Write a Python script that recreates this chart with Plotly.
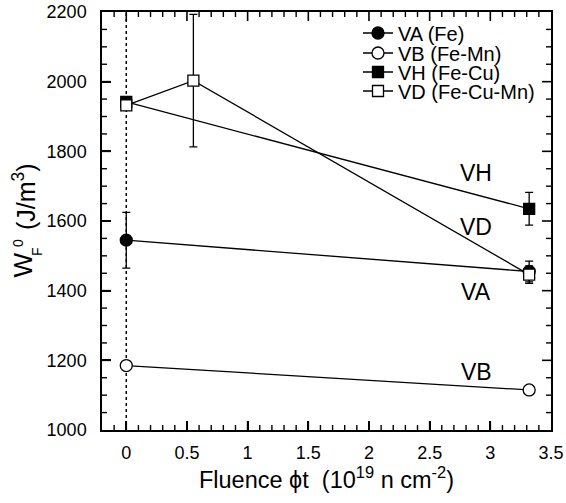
import numpy as np
import plotly.graph_objects as go

# Data
va_x = [0, 3.32]
va_y = [1545, 1455]
va_err = [80, 30]

vb_x = [0, 3.32]
vb_y = [1185, 1115]

vh_x = [0, 3.32]
vh_y = [1942, 1635]
vh_err = [8, 47]

vd_x = [0, 0.553, 3.32]
vd_y = [1932, 2003, 1446]
vd_err = [10, 190, 25]

labels = ["VH", "VD", "VA", "VB"]
label_x = [2.885, 2.885, 2.885, 2.885]
label_y = [1739, 1584, 1397, 1166]

x_tickvals = [0, 0.5, 1, 1.5, 2, 2.5, 3, 3.5]
x_ticktext = ["0", "0.5", "1", "1.5", "2", "2.5", "3", "3.5"]
y_tickvals = [1000, 1200, 1400, 1600, 1800, 2000, 2200]
x_range = [-0.2, 3.5]
y_range = [1000, 2200]
x_minor_step = 0.1
y_minor_step = 50

FONT = "Liberation Sans, Arial, sans-serif"

L, R, T, B = 102, 15, 12, 73
W_, H_ = 566, 503
PW, PH = W_ - L - R, H_ - T - B

def px2paper_x(px):
    return (px - L) / PW

def px2paper_y(py):
    return 1 - (py - T) / PH

fig = go.Figure()

legend_names = ["legend", "legend2", "legend3", "legend4"]

def add(name, x, y, err, symbol, fill, lg):
    fig.add_trace(go.Scatter(
        x=x, y=y, name=name, mode="lines+markers",
        line=dict(color="black", width=1.3),
        marker=dict(symbol=symbol, size=12 if "circle" in symbol else 11,
                    color=fill, line=dict(color="black", width=1.3)),
        error_y=dict(type="data", array=err, visible=err is not None,
                     color="black", thickness=1.3, width=4),
        cliponaxis=False, legend=lg,
    ))

add("VA (Fe)", va_x, va_y, va_err, "circle", "black", legend_names[0])
add("VB (Fe-Mn)", vb_x, vb_y, None, "circle", "white", legend_names[1])
add("VH (Fe-Cu)", vh_x, vh_y, vh_err, "square", "black", legend_names[2])
add("VD (Fe-Cu-Mn)", vd_x, vd_y, vd_err, "square", "white", legend_names[3])

fig.add_shape(type="line", x0=0, x1=0, xref="x", y0=0, y1=1, yref="paper",
              line=dict(color="black", width=1.5, dash="dot"), layer="below")

# inside tick marks on all four sides (axis decoration)
MAJ, MIN = 9, 5
def xtick(v, ln, w):
    for y0, y1 in [(0, ln / PH), (1 - ln / PH, 1)]:
        fig.add_shape(type="line", xref="x", yref="paper", x0=v, x1=v, y0=y0, y1=y1,
                      line=dict(color="black", width=w), layer="above")
def ytick(v, ln, w):
    for x0, x1 in [(0, ln / PW), (1 - ln / PW, 1)]:
        fig.add_shape(type="line", xref="paper", yref="y", x0=x0, x1=x1, y0=v, y1=v,
                      line=dict(color="black", width=w), layer="above")

for v in np.arange(-0.2, 3.5 + 1e-9, x_minor_step):
    v = round(float(v), 2)
    if v in x_tickvals or v <= x_range[0] or v >= x_range[1]:
        continue
    xtick(v, MIN, 1.4)
for v in x_tickvals:
    if x_range[0] < v < x_range[1]:
        xtick(v, MAJ, 1.6)
for v in np.arange(y_range[0], y_range[1] + 1, y_minor_step):
    v = int(v)
    if v in y_tickvals:
        continue
    ytick(v, MIN, 1.4)
for v in y_tickvals:
    if y_range[0] < v < y_range[1]:
        ytick(v, MAJ, 1.6)

for t, xx, yy in zip(labels, label_x, label_y):
    fig.add_annotation(x=xx, y=yy, text=t, showarrow=False,
                       font=dict(family=FONT, size=23, color="black"))

# y-axis title pieces (rotated)
ytitle = [("W", 22.5, 265, 26), ("0", 18, 243, 14), ("F", 37, 252, 14),
          ("(J/m<sup>3</sup>)", 24, 197, 25)]
for txt, px, py, sz in ytitle:
    fig.add_annotation(x=px2paper_x(px), y=px2paper_y(py), xref="paper", yref="paper",
                       text=txt, showarrow=False, textangle=-90,
                       xanchor="center", yanchor="middle",
                       font=dict(family=FONT, size=sz, color="black"))

tick_common = dict(ticks="inside", tickcolor="black", showgrid=False, zeroline=False,
                   automargin=False)

main_x = dict(range=x_range, tickmode="array", tickvals=x_tickvals, ticktext=x_ticktext,
              showline=True, linecolor="black", linewidth=1.5, mirror=True,
              ticklen=9, tickwidth=1.6, ticklabelstandoff=6,
              tickfont=dict(family=FONT, size=18, color="black"),
              title=dict(text="Fluence \u03d5t&nbsp;&nbsp;(10<sup>19</sup> n cm<sup>-2</sup>)",
                         font=dict(family=FONT, size=23.5, color="black"), standoff=8),
              **tick_common)
main_y = dict(range=y_range, tickmode="array", tickvals=y_tickvals,
              showline=True, linecolor="black", linewidth=1.5, mirror=True,
              ticklen=9, tickwidth=1.6, ticklabelstandoff=10,
              tickfont=dict(family=FONT, size=18, color="black"),
              **tick_common)

legend_rows = [33, 53, 72, 91]
legend_cfg = {}
for lg, row in zip(legend_names, legend_rows):
    legend_cfg[lg] = dict(x=px2paper_x(358), y=px2paper_y(row), xanchor="left", yanchor="middle",
                          bgcolor="rgba(0,0,0,0)", borderwidth=0,
                          font=dict(family=FONT, size=20, color="black"),
                          itemsizing="trace")

fig.update_layout(
    template="none",
    width=W_, height=H_,
    margin=dict(l=L, r=R, t=T, b=B, autoexpand=False),
    plot_bgcolor="white", paper_bgcolor="white",
    showlegend=True,
    xaxis=main_x, yaxis=main_y,
    **legend_cfg,
)

fig.write_html("out.html")
